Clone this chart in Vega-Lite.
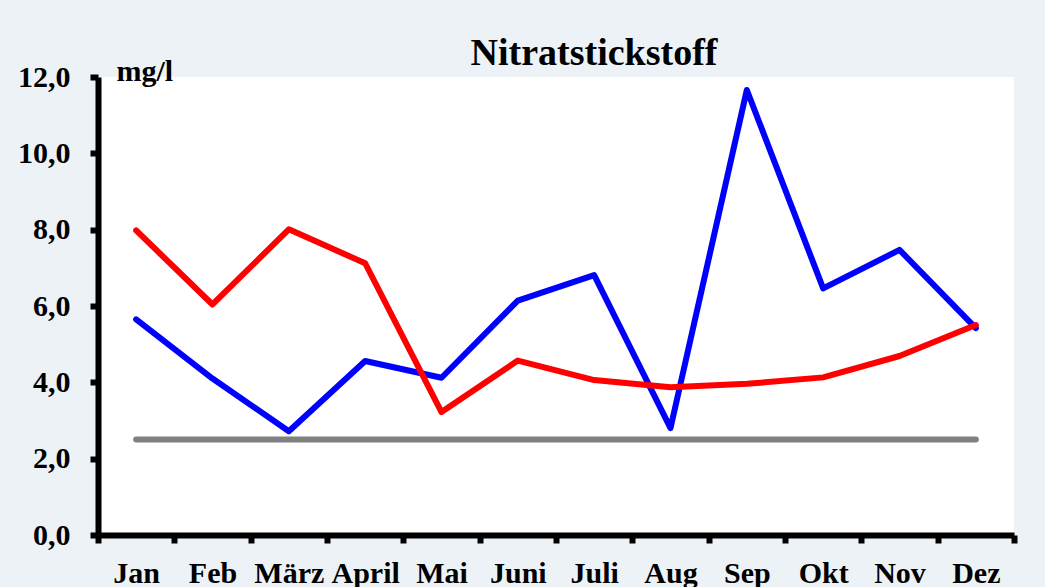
{
  "$schema": "https://vega.github.io/schema/vega-lite/v6.json",
  "width": 916,
  "height": 458,
  "autosize": {"type": "none"},
  "padding": {"left": 98, "top": 77, "right": 31, "bottom": 52},
  "background": "#edf2f7",
  "config": {
    "view": {"fill": "white", "stroke": null},
    "font": "Liberation Serif"
  },
  "title": {
    "text": "Nitratstickstoff",
    "font": "Liberation Serif",
    "fontSize": 38,
    "fontWeight": "bold",
    "color": "black",
    "anchor": "middle",
    "dx": 38,
    "offset": -17
  },
  "data": {
    "values": [
      {"Monat": "Jan", "Reihe": "Messung", "Wert": 5.65},
      {"Monat": "Feb", "Reihe": "Messung", "Wert": 4.1},
      {"Monat": "März", "Reihe": "Messung", "Wert": 2.72},
      {"Monat": "April", "Reihe": "Messung", "Wert": 4.56},
      {"Monat": "Mai", "Reihe": "Messung", "Wert": 4.12},
      {"Monat": "Juni", "Reihe": "Messung", "Wert": 6.14},
      {"Monat": "Juli", "Reihe": "Messung", "Wert": 6.81},
      {"Monat": "Aug", "Reihe": "Messung", "Wert": 2.8},
      {"Monat": "Sep", "Reihe": "Messung", "Wert": 11.66},
      {"Monat": "Okt", "Reihe": "Messung", "Wert": 6.46},
      {"Monat": "Nov", "Reihe": "Messung", "Wert": 7.47},
      {"Monat": "Dez", "Reihe": "Messung", "Wert": 5.42},
      {"Monat": "Jan", "Reihe": "Vergleich", "Wert": 7.98},
      {"Monat": "Feb", "Reihe": "Vergleich", "Wert": 6.04},
      {"Monat": "März", "Reihe": "Vergleich", "Wert": 8.01},
      {"Monat": "April", "Reihe": "Vergleich", "Wert": 7.12},
      {"Monat": "Mai", "Reihe": "Vergleich", "Wert": 3.22},
      {"Monat": "Juni", "Reihe": "Vergleich", "Wert": 4.57},
      {"Monat": "Juli", "Reihe": "Vergleich", "Wert": 4.06},
      {"Monat": "Aug", "Reihe": "Vergleich", "Wert": 3.87},
      {"Monat": "Sep", "Reihe": "Vergleich", "Wert": 3.96},
      {"Monat": "Okt", "Reihe": "Vergleich", "Wert": 4.13},
      {"Monat": "Nov", "Reihe": "Vergleich", "Wert": 4.69},
      {"Monat": "Dez", "Reihe": "Vergleich", "Wert": 5.5},
      {"Monat": "Jan", "Reihe": "Referenz", "Wert": 2.5},
      {"Monat": "Feb", "Reihe": "Referenz", "Wert": 2.5},
      {"Monat": "März", "Reihe": "Referenz", "Wert": 2.5},
      {"Monat": "April", "Reihe": "Referenz", "Wert": 2.5},
      {"Monat": "Mai", "Reihe": "Referenz", "Wert": 2.5},
      {"Monat": "Juni", "Reihe": "Referenz", "Wert": 2.5},
      {"Monat": "Juli", "Reihe": "Referenz", "Wert": 2.5},
      {"Monat": "Aug", "Reihe": "Referenz", "Wert": 2.5},
      {"Monat": "Sep", "Reihe": "Referenz", "Wert": 2.5},
      {"Monat": "Okt", "Reihe": "Referenz", "Wert": 2.5},
      {"Monat": "Nov", "Reihe": "Referenz", "Wert": 2.5},
      {"Monat": "Dez", "Reihe": "Referenz", "Wert": 2.5}
    ]
  },
  "encoding": {
    "x": {
      "field": "Monat",
      "type": "nominal",
      "sort": ["Jan", "Feb", "März", "April", "Mai", "Juni", "Juli", "Aug", "Sep", "Okt", "Nov", "Dez"],
      "scale": {"type": "band", "paddingInner": 0, "paddingOuter": 0},
      "axis": {
        "title": null,
        "labelAngle": 0,
        "labelFont": "Liberation Serif",
        "labelFontSize": 30,
        "labelFontWeight": "bold",
        "labelColor": "black",
        "labelPadding": 15,
        "domainColor": "black",
        "domainWidth": 6,
        "tickColor": "black",
        "tickWidth": 6,
        "tickSize": 8,
        "tickBand": "extent",
        "grid": false
      }
    },
    "y": {
      "field": "Wert",
      "type": "quantitative",
      "scale": {"domain": [0, 12], "nice": false, "zero": true},
      "axis": {
        "title": "mg/l",
        "titleAngle": 0,
        "titleAlign": "left",
        "titleBaseline": "alphabetic",
        "titleX": 18,
        "titleY": 3,
        "titleFont": "Liberation Serif",
        "titleFontSize": 30,
        "titleFontWeight": "bold",
        "titleColor": "black",
        "values": [0, 2, 4, 6, 8, 10, 12],
        "labelExpr": "replace(format(datum.value, '.1f'), '.', ',')",
        "labelFont": "Liberation Serif",
        "labelFontSize": 30,
        "labelFontWeight": "bold",
        "labelColor": "black",
        "labelPadding": 20,
        "domainColor": "black",
        "domainWidth": 6,
        "tickColor": "black",
        "tickWidth": 6,
        "tickSize": 8,
        "grid": false
      }
    },
    "color": {
      "field": "Reihe",
      "type": "nominal",
      "scale": {"domain": ["Referenz", "Messung", "Vergleich"], "range": ["#808080", "#0000ff", "#ff0000"]},
      "legend": null
    }
  },
  "layer": [
    {
      "transform": [{"filter": "datum.Reihe === 'Referenz'"}],
      "mark": {"type": "line", "strokeWidth": 6, "strokeCap": "round", "strokeJoin": "round"}
    },
    {
      "transform": [{"filter": "datum.Reihe === 'Messung'"}],
      "mark": {"type": "line", "strokeWidth": 6, "strokeCap": "round", "strokeJoin": "round"}
    },
    {
      "transform": [{"filter": "datum.Reihe === 'Vergleich'"}],
      "mark": {"type": "line", "strokeWidth": 6, "strokeCap": "round", "strokeJoin": "round"}
    }
  ]
}
